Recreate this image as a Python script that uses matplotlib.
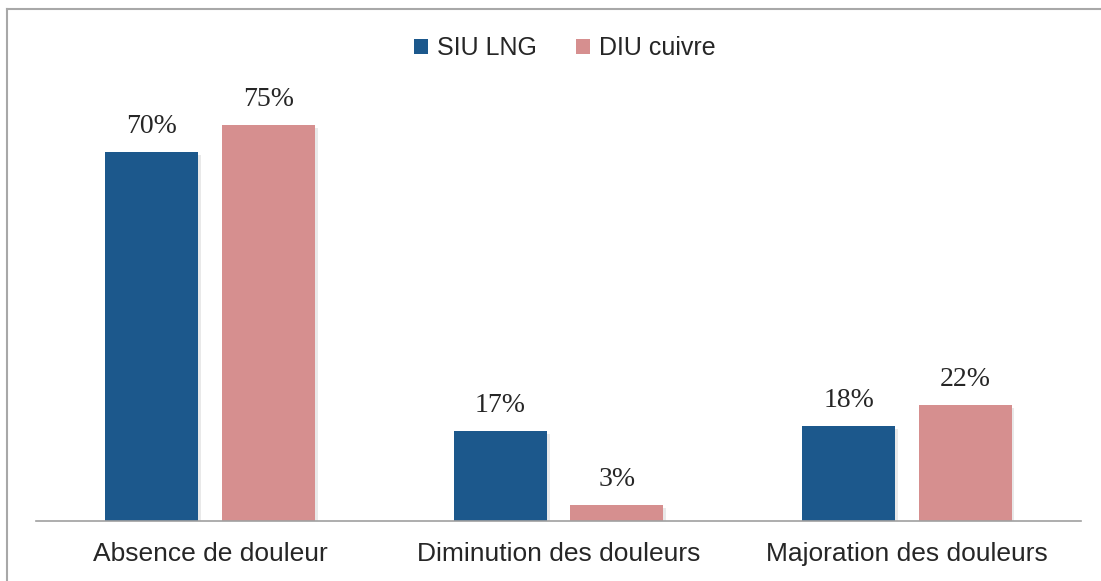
import numpy as np
import matplotlib.pyplot as plt
from matplotlib.lines import Line2D
import matplotlib.patheffects as pe

# Données
categories = ['Absence de douleur', 'Diminution des douleurs', 'Majoration des douleurs']
siu_lng = [70, 17, 18]
diu_cuivre = [75, 3, 22]
series_names = ['SIU LNG', 'DIU cuivre']

blue = '#1C588C'
pink = '#D68F8F'

fig = plt.figure(figsize=(11.01, 5.81), dpi=100)
ax = fig.add_axes([36 / 1101, 60 / 581, 1045 / 1101, 422 / 581])

x = np.arange(len(categories))
w = 0.267
off = 0.167

b1 = ax.bar(x - off, siu_lng, w, color=blue, label=series_names[0])
b2 = ax.bar(x + off, diu_cuivre, w, color=pink, label=series_names[1])

# Étiquettes de valeurs
for bars, vals in [(b1, siu_lng), (b2, diu_cuivre)]:
    for bar, v in zip(bars, vals):
        ax.annotate(f'{v}%', (bar.get_x() + bar.get_width() / 2, v),
                    xytext=(0, 9.5), textcoords='offset points',
                    ha='center', va='bottom', fontsize=20,
                    family='Liberation Serif', color='#262626')

ax.set_xlim(-0.5, 2.5)
ax.set_ylim(0, 80)
ax.set_xticks(x)
ax.set_xticklabels(categories, fontsize=19, family='Liberation Sans', color='#262626')
ax.tick_params(axis='x', length=0, pad=15)
ax.set_yticks([])
for s in ['top', 'right', 'left']:
    ax.spines[s].set_visible(False)
ax.spines['bottom'].set_color('#A0A0A0')
ax.spines['bottom'].set_linewidth(1.2)

# Légende
leg = fig.legend(loc='center', bbox_to_anchor=(0.513, 0.917), ncol=2, frameon=False,
                 handlelength=0.55, handleheight=0.55, handletextpad=0.35,
                 columnspacing=1.6, prop={'family': 'Liberation Sans', 'size': 18})
for t in leg.get_texts():
    t.set_color('#262626')

# Ombre légère des barres (après la légende)
shadow = [pe.SimplePatchShadow(offset=(2, -2), alpha=0.18, shadow_rgbFace='#888888'), pe.Normal()]
for bar in list(b1) + list(b2):
    bar.set_path_effects(shadow)

# Cadre
fig.add_artist(Line2D([7 / 1101, 7 / 1101], [0, 1 - 9 / 581], color='#A8A8A8', lw=1.5))
fig.add_artist(Line2D([7 / 1101, 1], [1 - 9 / 581, 1 - 9 / 581], color='#A8A8A8', lw=1.5))

fig.savefig('out.png', dpi=100)
